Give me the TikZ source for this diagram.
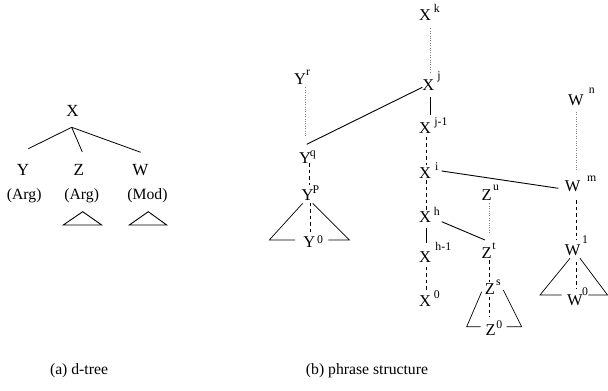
\documentclass[tikz,border=0pt]{standalone}
\usepackage{fontspec}
\setmainfont{Liberation Serif}
\begin{document}
\begin{tikzpicture}[x=1pt,y=-1pt,
  lt/.style={inner sep=0pt,font=\fontsize{15.7}{18}\selectfont},
  ltr/.style={inner sep=0pt,font=\fontsize{16.5}{19}\selectfont},
  big/.style={inner sep=0pt,font=\fontsize{17}{20}\selectfont},
  sp/.style={inner sep=0pt,font=\fontsize{11.8}{13}\selectfont},
  solidln/.style={line width=0.9pt},
  dashln/.style={line width=0.9pt,dash pattern=on 3.5pt off 3pt},
  dotln/.style={line width=0.6pt,gray,dash pattern=on 0.8pt off 1.6pt},
  triln/.style={line width=0.7pt}]
\useasboundingbox (0,0) rectangle (608,391);
% ---- (a) d-tree
\node[big] (dX) at (72.5,111) {X};
\node[big] (dY) at (23,170) {Y};
\node[big] (dZ) at (78.8,170) {Z};
\node[big] (dW) at (140.5,170) {W};
\node[lt] (a1) at (24.2,196) {(Arg)};
\node[lt] (a2) at (81.7,196) {(Arg)};
\node[lt] (a3) at (147.5,196) {(Mod)};
\coordinate (dj) at ([shift={(-0.8,16.3)}]dX.center);
\draw[solidln,line width=0.8pt] (dj) -- ([shift={(5.3,-21.3)}]dY.center);
\draw[solidln,line width=0.8pt] (dj) -- ([shift={(3.5,-18)}]dZ.center);
\draw[solidln,line width=0.8pt] (dj) -- ([shift={(0.2,-17.7)}]dW.center);
\draw[triln,line width=0.9pt] ([shift={(1,15.7)}]a2.center) -- ([shift={(-18.4,29)}]a2.center) -- ([shift={(20,29)}]a2.center) -- cycle;
\draw[triln,line width=0.9pt] ([shift={(0.8,15.7)}]a3.center) -- ([shift={(-18.2,29)}]a3.center) -- ([shift={(19.2,29)}]a3.center) -- cycle;
\node[lt] (capa) at (79,371) {(a) d-tree};
% ---- (b) phrase structure
\node[ltr] (Xk) at (425,15) {X};   \node[sp] (Xks) at (436.7,8.3) {k};
\node[ltr] (Xj) at (428.3,85) {X}; \node[sp] (Xjs) at (439,77) {j};
\node[ltr] (Yr) at (300,79) {Y};   \node[sp] (Yrs) at (308,72.7) {r};
\node[ltr] (Yq) at (305,158.3) {Y}; \node[sp] (Yqs) at (312.7,155) {q};
\node[ltr] (Xj1) at (425,128.3) {X}; \node[sp] (Xj1s) at (441,123.3) {j-1};
\node[ltr] (Xi) at (425,172.7) {X}; \node[sp] (Xis) at (436.7,166.7) {i};
\node[ltr] (Yp) at (307.7,195) {Y}; \node[sp] (Yps) at (316,189.3) {P};
\node[ltr] (Y0) at (309.3,241.7) {Y}; \node[sp] (Y0s) at (320,240) {0};
\node[ltr] (Xh) at (425,217.3) {X}; \node[sp] (Xhs) at (436.7,211.7) {h};
\node[ltr] (Xh1) at (425,257.3) {X}; \node[sp] (Xh1s) at (443.3,246.7) {h-1};
\node[ltr] (X0) at (425,300.7) {X}; \node[sp] (X0s) at (436.7,295) {0};
\node[ltr] (Wn) at (576,100) {W};  \node[sp] (Wns) at (591.7,90.7) {n};
\node[ltr] (Wm) at (572.7,186.7) {W}; \node[sp] (Wms) at (591.7,178.3) {m};
\node[ltr] (Zu) at (486.7,195) {Z}; \node[sp] (Zus) at (496,188.3) {u};
\node[ltr] (Zt) at (486.7,252.7) {Z}; \node[sp] (Zts) at (494,246.7) {t};
\node[ltr] (Zs) at (490,289.3) {Z}; \node[sp] (Zss) at (498.3,282.7) {s};
\node[ltr] (Z0) at (490.7,330) {Z}; \node[sp] (Z0s) at (499.3,325) {0};
\node[ltr] (W1) at (572.7,250) {W}; \node[sp] (W1s) at (585,240) {1};
\node[ltr] (W0) at (575,300) {W}; \node[sp] (W0s) at (585,291.7) {0};
% connectors
\draw[dotln] ([shift={(5,13.3)}]Xk.center) -- ([shift={(1.7,-13.3)}]Xj.center);
\draw[dotln] ([shift={(5.7,8.3)}]Yr.center) -- ([shift={(0.7,-21.6)}]Yq.center);
\draw[solidln] ([shift={(1.7,-14)}]Yq.center) -- ([shift={(-6,2.3)}]Xj.center);
\draw[solidln] ([shift={(1.7,12.3)}]Xj.center) -- ([shift={(5,-13.3)}]Xj1.center);
\draw[dashln] ([shift={(1.7,8.4)}]Xj1.center) -- ([shift={(1.7,-7.7)}]Xi.center);
\draw[dashln] ([shift={(1.7,7.3)}]Xi.center) -- ([shift={(1.7,-5.6)}]Xh.center);
\draw[solidln] ([shift={(16.7,-1.7)}]Xi.center) -- ([shift={(-14.4,1.6)}]Wm.center);
\draw[dashln] ([shift={(4.3,4.7)}]Yq.center) -- ([shift={(1.6,-10)}]Yp.center);
\draw[dashln] ([shift={(2.3,7.7)}]Yp.center) -- ([shift={(0.7,-8.4)}]Y0.center);
\draw[triln] ([shift={(-5,8.3)}]Yp.center) -- ([shift={(-40,-1.7)}]Y0.center) -- ([shift={(-14.3,-1.7)}]Y0.center);
\draw[triln] ([shift={(5,8.3)}]Yp.center) -- ([shift={(40,-1.7)}]Y0.center) -- ([shift={(19,-1.7)}]Y0.center);
\draw[solidln] ([shift={(16.7,4.4)}]Xh.center) -- ([shift={(-1.7,-12.7)}]Zt.center);
\draw[solidln] ([shift={(1.7,11)}]Xh.center) -- ([shift={(1.7,-14)}]Xh1.center);
\draw[dashln] ([shift={(1.7,9.4)}]Xh1.center) -- ([shift={(1.7,-10.7)}]X0.center);
\draw[dotln] ([shift={(0,11.7)}]Wn.center) -- ([shift={(3.3,-16.7)}]Wm.center);
\draw[dashln] ([shift={(3.3,13.3)}]Wm.center) -- ([shift={(3.3,-10)}]W1.center);
\draw[dashln] ([shift={(3.3,11.7)}]W1.center) -- ([shift={(1,-11.7)}]W0.center);
\draw[triln] ([shift={(-2.7,8.3)}]W1.center) -- ([shift={(-35,-5)}]W0.center) -- ([shift={(-13.3,-5)}]W0.center);
\draw[triln] ([shift={(7.3,8.3)}]W1.center) -- ([shift={(32.5,-5)}]W0.center) -- ([shift={(13.3,-5)}]W0.center);
\draw[dotln] ([shift={(2.3,8.3)}]Zu.center) -- ([shift={(2.3,-19.4)}]Zt.center);
\draw[dashln] ([shift={(2.3,7.3)}]Zt.center) -- ([shift={(-1,-7.6)}]Zs.center);
\draw[dashln] ([shift={(-1,7.4)}]Zs.center) -- ([shift={(-1.7,-13.3)}]Z0.center);
\draw[triln] ([shift={(-8.3,2.4)}]Zs.center) -- ([shift={(-24,-3.3)}]Z0.center) -- ([shift={(-10,-3.3)}]Z0.center);
\draw[triln] ([shift={(13.3,0.7)}]Zs.center) -- ([shift={(31,-3.3)}]Z0.center) -- ([shift={(16,-3.3)}]Z0.center);
\node[lt] (capb) at (367,371) {(b) phrase structure};
\end{tikzpicture}
\end{document}
